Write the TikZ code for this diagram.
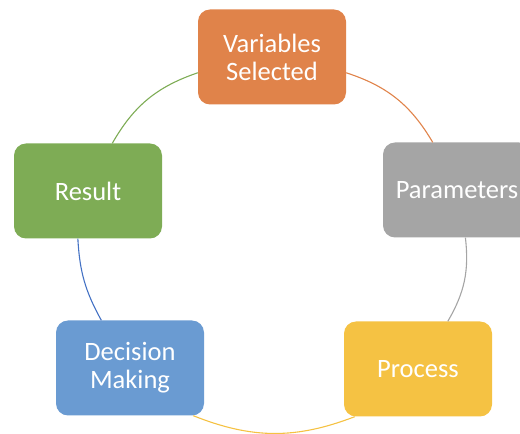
\documentclass[tikz,border=0pt]{standalone}
\usepackage{fontspec}
\setmainfont{Carlito}
\definecolor{cOrange}{HTML}{E0834A}
\definecolor{cGray}{HTML}{A5A5A5}
\definecolor{cGold}{HTML}{F5C243}
\definecolor{cBlue}{HTML}{6A9BD2}
\definecolor{cGreen}{HTML}{7EAC55}
\definecolor{lBlue}{HTML}{4472C4}
\begin{document}
\begin{tikzpicture}[x=1pt,y=1pt,
  box/.style={rounded corners=12pt, minimum width=148pt, minimum height=95pt,
    inner sep=0pt, align=center, text=white,
    font=\fontsize{26.5}{28}\selectfont},
  link/.style={line width=1.1pt}]
\useasboundingbox (0,0) rectangle (520,434);
\node[box, fill=cOrange] (var) at (272,377) {Variables\\Selected};
\node[box, fill=cGray]   (par) at (457,244) {Parameters};
\node[box, fill=cGold]   (pro) at (418,65)  {Process};
\node[box, fill=cBlue]   (dec) at (130,66)  {Decision\\Making};
\node[box, fill=cGreen]  (res) at (88,243)  {Result};
\draw[link, cOrange] (var.-12.2) to[bend left=20.7] (par.117.8);
\draw[link, cGray]   (par.-80.4) to[bend left=18.4] (pro.58.6);
\draw[link, cGold]   (pro.217.9) to[bend left=21.4] (dec.-37);
\draw[link, lBlue]   (dec.121.4) to[bend left=12.9] (res.258.1);
\draw[link, cGreen]  (res.63.2)  to[bend left=20.7] (var.192.2);
\end{tikzpicture}
\end{document}
